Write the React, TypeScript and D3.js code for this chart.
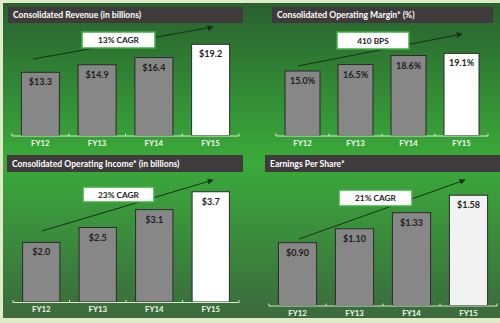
import React from "react";
import * as d3 from "d3";

const categories = ["FY12", "FY13", "FY14", "FY15"];
const revenue = [13.3, 14.9, 16.4, 19.2];
const margin = [15.0, 16.5, 18.6, 19.1];
const income = [2.0, 2.5, 3.1, 3.7];
const eps = [0.9, 1.1, 1.33, 1.58];
const revenueLabels = ["$13.3", "$14.9", "$16.4", "$19.2"];
const marginLabels = ["15.0%", "16.5%", "18.6%", "19.1%"];
const incomeLabels = ["$2.0", "$2.5", "$3.1", "$3.7"];
const epsLabels = ["$0.90", "$1.10", "$1.33", "$1.58"];
const titles = [
  "Consolidated Revenue (in billions)",
  "Consolidated Operating Margin* (%)",
  "Consolidated Operating Income* (in billions)",
  "Earnings Per Share*",
];
const callouts = ["13% CAGR", "410 BPS", "23% CAGR", "21% CAGR"];

const FONT = "Lato, 'Open Sans', sans-serif";

type PanelCfg = {
  values: number[];
  labels: string[];
  title: string;
  callout: string;
  xr: [number, number];
  base: number;
  dmax: number;
  top: number;
  pad: number;
  tb: [number, number, number, number];
  box: [number, number, number, number];
  arrow: [number, number, number, number];
  lastFill: string;
};

const panels: PanelCfg[] = [
  {
    values: revenue, labels: revenueLabels, title: titles[0], callout: callouts[0],
    xr: [12, 239], base: 135.5, dmax: 20, top: 40.5, pad: 0.33,
    tb: [8, 7, 235, 16], box: [82, 32, 73, 16], arrow: [33, 59, 213, 27], lastFill: "#ffffff",
  },
  {
    values: margin, labels: marginLabels, title: titles[1], callout: callouts[1],
    xr: [276, 488], base: 135.5, dmax: 20, top: 49.5, pad: 0.34,
    tb: [272, 7, 221, 16], box: [337, 32, 72, 17], arrow: [298, 66, 462, 34], lastFill: "#ffffff",
  },
  {
    values: income, labels: incomeLabels, title: titles[2], callout: callouts[2],
    xr: [13, 239], base: 302, dmax: 4, top: 182.8, pad: 0.34,
    tb: [7, 155, 236, 17], box: [83, 187, 71, 15], arrow: [42, 231, 213, 180], lastFill: "#ffffff",
  },
  {
    values: eps, labels: epsLabels, title: titles[3], callout: callouts[3],
    xr: [269, 497], base: 305.5, dmax: 2, top: 165.9, pad: 0.33,
    tb: [265, 155, 235, 17], box: [339, 190, 73, 16], arrow: [299, 239, 465, 180], lastFill: "#f2f2f2",
  },
];

function Panel({ p, i }: { p: PanelCfg; i: number }) {
  const x = d3.scaleBand<string>().domain(categories).range(p.xr).paddingInner(p.pad).paddingOuter(p.pad / 2);
  const y = d3.scaleLinear().domain([0, p.dmax]).range([p.base, p.top]);
  const step = x.step();
  const edges = categories.map((c) => (x(c) as number) - (step * p.pad) / 2);
  edges.push(p.xr[1]);
  edges[0] = p.xr[0];
  return (
    <g>
      <rect x={p.tb[0]} y={p.tb[1]} width={p.tb[2]} height={p.tb[3]} fill="#3f3b3d" />
      <text x={p.tb[0] + 5} y={p.tb[1] + p.tb[3] / 2 + 3} fill="#ffffff" fontSize={8.6} fontWeight="bold" fontFamily={FONT}>
        {p.title}
      </text>
      {p.values.map((v, j) => (
        <g key={j}>
          <rect
            x={x(categories[j])}
            y={y(v)}
            width={x.bandwidth()}
            height={p.base - y(v)}
            fill={j === 3 ? p.lastFill : "#878787"}
            stroke="#2b2b2b"
            strokeWidth={1}
          />
          <text
            x={(x(categories[j]) as number) + x.bandwidth() / 2}
            y={y(v) + 13}
            textAnchor="middle"
            fontSize={9}
            fontWeight="bold"
            fill="#1e1e1e"
            fontFamily={FONT}
          >
            {p.labels[j]}
          </text>
          <text
            x={(x(categories[j]) as number) + x.bandwidth() / 2}
            y={p.base + 10}
            textAnchor="middle"
            fontSize={7.8}
            fontWeight="bold"
            fill="#f4f8ee"
            fontFamily={FONT}
          >
            {categories[j]}
          </text>
        </g>
      ))}
      <line x1={p.xr[0]} x2={p.xr[1]} y1={p.base + 0.5} y2={p.base + 0.5} stroke="#d9e9cc" strokeWidth={1} />
      {edges.map((e, k) => (
        <line key={k} x1={e} x2={e} y1={p.base + 0.5} y2={p.base - 2} stroke="#d9e9cc" strokeWidth={1} />
      ))}
      <line
        x1={p.arrow[0]} y1={p.arrow[1]} x2={p.arrow[2]} y2={p.arrow[3]}
        stroke="#16301a" strokeWidth={1} markerEnd={`url(#arr${i})`}
      />
      <defs>
        <marker id={`arr${i}`} viewBox="0 0 10 10" refX={9} refY={5} markerWidth={6} markerHeight={6} orient="auto">
          <path d="M0,0 L10,5 L0,10 z" fill="#16301a" />
        </marker>
      </defs>
      <rect x={p.box[0]} y={p.box[1]} width={p.box[2]} height={p.box[3]} fill="#ffffff" stroke="#3db03d" strokeWidth={1.5} />
      <text
        x={p.box[0] + p.box[2] / 2}
        y={p.box[1] + p.box[3] / 2 + 3}
        textAnchor="middle"
        fontSize={8.3}
        fontWeight="bold"
        fill="#222"
        fontFamily={FONT}
      >
        {p.callout}
      </text>
    </g>
  );
}

export default function App() {
  return (
    <svg width={500} height={323} style={{ position: "absolute", left: 0, top: 0 }}>
      <defs>
        <linearGradient id="bg" x1="0" y1="0" x2="0" y2="1">
          <stop offset="0%" stopColor="#29602f" />
          <stop offset="50%" stopColor="#3aab3a" />
          <stop offset="100%" stopColor="#3b6a3d" />
        </linearGradient>
      </defs>
      <rect x={0} y={0} width={500} height={323} fill="#e1eac8" />
      <rect x={3} y={3} width={497} height={315} fill="url(#bg)" />
      {panels.map((p, i) => (
        <Panel key={i} p={p} i={i} />
      ))}
    </svg>
  );
}
